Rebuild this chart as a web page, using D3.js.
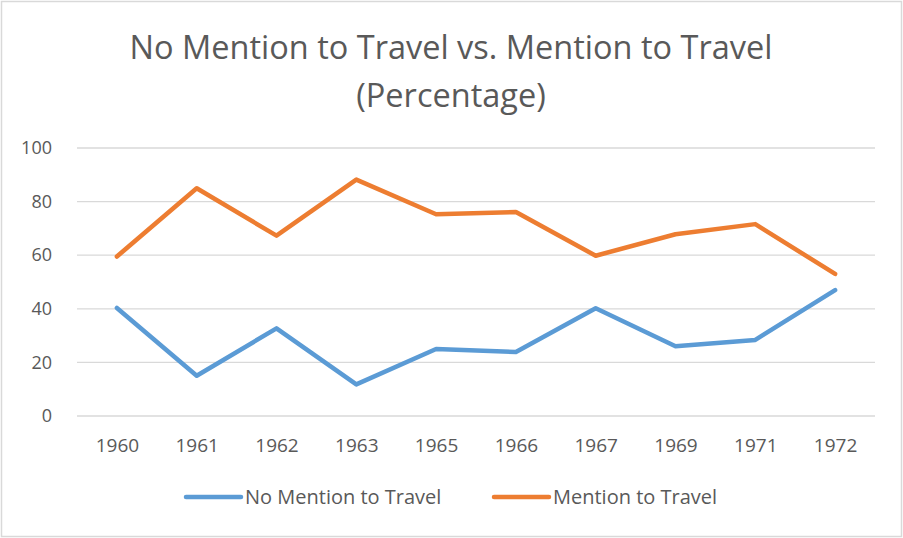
<!DOCTYPE html>
<html>
<head>
<meta charset="utf-8">
<script src="https://cdn.jsdelivr.net/npm/d3@7"></script>
<style>
  body { margin: 0; background: #fff; }
  text { font-family: "Open Sans", sans-serif; fill: #595959; }
</style>
</head>
<body>
<div id="chart"></div>
<script>
var years = ["1960", "1961", "1962", "1963", "1965", "1966", "1967", "1969", "1971", "1972"];
var noMention = [40.3, 15, 32.7, 11.8, 25, 23.9, 40.2, 26, 28.4, 47];
var mention = [59.5, 85, 67.3, 88.2, 75.3, 76.1, 59.8, 67.8, 71.6, 53];
var yTicks = [0, 20, 40, 60, 80, 100];
var seriesNames = ["No Mention to Travel", "Mention to Travel"];
var seriesColors = ["#5b9bd5", "#ed7d31"];

var width = 903, height = 538;
var plotLeft = 77, plotRight = 875, plotTop = 148, plotBottom = 416;

var svg = d3.select("#chart").append("svg")
    .attr("width", width)
    .attr("height", height);

// outer frame
svg.append("rect")
    .attr("x", 1.5).attr("y", 1.5)
    .attr("width", 900).attr("height", 535)
    .attr("fill", "#fff")
    .attr("stroke", "#d9d9d9")
    .attr("stroke-width", 1.5);

var x = d3.scalePoint().domain(years).range([plotLeft, plotRight]).padding(0.5);
var y = d3.scaleLinear().domain([0, 100]).range([plotBottom, plotTop]);

// title
svg.append("text")
    .attr("x", 451).attr("y", 59)
    .attr("text-anchor", "middle")
    .attr("font-size", "32.5px")
    .text("No Mention to Travel vs. Mention to Travel");
svg.append("text")
    .attr("x", 451).attr("y", 107)
    .attr("text-anchor", "middle")
    .attr("font-size", "32.5px")
    .text("(Percentage)");

// grid
svg.selectAll(".grid")
    .data(yTicks)
    .enter()
    .append("line")
    .attr("x1", plotLeft).attr("x2", plotRight)
    .attr("y1", function(d){ return y(d); })
    .attr("y2", function(d){ return y(d); })
    .attr("stroke", "#d9d9d9")
    .attr("stroke-width", 1.3);

// y axis labels
var yAxis = d3.axisLeft(y).tickValues(yTicks).tickSize(0).tickPadding(0);
var gy = svg.append("g").attr("transform", "translate(" + 52 + ",0)").call(yAxis);
gy.select(".domain").remove();
gy.selectAll("text")
    .attr("font-size", "18px")
    .attr("font-family", "Open Sans")
    .attr("fill", "#595959");

// x axis labels
var xAxis = d3.axisBottom(x).tickSize(0).tickPadding(0);
var gx = svg.append("g").attr("transform", "translate(0," + 438 + ")").call(xAxis);
gx.select(".domain").remove();
gx.selectAll("text")
    .attr("font-size", "19px")
    .attr("font-family", "Open Sans")
    .attr("fill", "#595959");

var line = d3.line()
    .x(function(d, i){ return x(years[i]); })
    .y(function(d){ return y(d); });

[noMention, mention].forEach(function(vals, k){
  svg.append("path")
      .datum(vals)
      .attr("d", line)
      .attr("fill", "none")
      .attr("stroke", seriesColors[k])
      .attr("stroke-width", 4.5)
      .attr("stroke-linejoin", "round")
      .attr("stroke-linecap", "round");
});

// legend
var legendX = [186, 494];
seriesNames.forEach(function(name, k){
  svg.append("line")
      .attr("x1", legendX[k]).attr("x2", legendX[k] + 55)
      .attr("y1", 497).attr("y2", 497)
      .attr("stroke", seriesColors[k])
      .attr("stroke-width", 4.5)
      .attr("stroke-linecap", "round");
  svg.append("text")
      .attr("x", legendX[k] + 59).attr("y", 504)
      .attr("font-size", "20px")
      .text(name);
});
</script>
</body>
</html>
